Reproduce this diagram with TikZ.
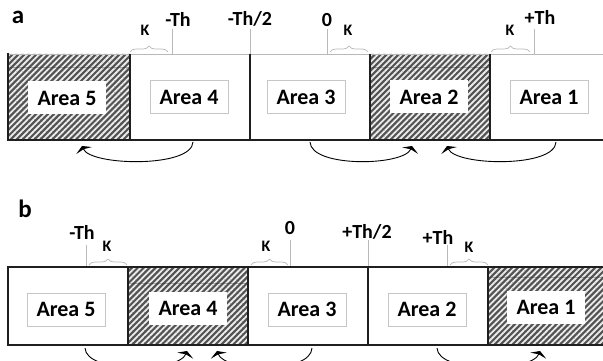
\documentclass[tikz,border=0pt]{standalone}
\usepackage{fontspec}
\setmainfont{Carlito}
\usetikzlibrary{patterns.meta,decorations.pathreplacing,arrows.meta}
\begin{document}
\begin{tikzpicture}[x=1pt,y=-1pt,
  thickline/.style={line width=2.6pt, black!88},
  tickline/.style={gray!55, line width=0.7pt},
  kbrace/.style={gray!55, line width=0.7pt, decorate, decoration={brace, amplitude=6pt}},
  hatched/.style={fill=gray!65!black,
    postaction={pattern={Lines[angle=45,distance=4.2pt,line width=1.8pt]}, pattern color=white!85!gray}},
  seam/.style={gray!30!black, line width=1pt, opacity=0.35},
  arealabel/.style={draw=gray!45, line width=0.6pt, fill=white, inner sep=0pt,
    minimum width=78pt, minimum height=33pt, font=\bfseries\fontsize{22}{24}\selectfont},
  marklabel/.style={font=\bfseries\fontsize{20}{22}\selectfont, inner sep=0pt},
  klabel/.style={font=\bfseries\fontsize{16}{18}\selectfont, inner sep=0pt},
  panellabel/.style={font=\bfseries\fontsize{25}{27}\selectfont, inner sep=0pt},
  arr/.style={line width=0.9pt, black, -{Stealth[length=5pt,width=17pt,inset=1.5pt]}}
]
\useasboundingbox (0,0) rectangle (603,361);
\clip (0,0) rectangle (603,361);
\fill[white] (0,0) rectangle (603,361);

% ---------------- panel a ----------------
\node[panellabel] (pa) at (18,17) {a};

\path[hatched] (8,54) rectangle (130,140);
\path[hatched] (370,54) rectangle (490,140);
\draw[seam] (8,68) -- (130,68);
\draw[seam] (370,68) -- (490,68);

\draw[tickline] (8,54) -- (604,54);
\draw[thickline] (8,53) -- (8,140) -- (604,140);
\foreach \x in {130,250,370,490} \draw[thickline] (\x,54) -- (\x,140);

% threshold marks
\draw[tickline] (172,29) -- (172,54);
\draw[tickline] (250,29) -- (250,54);
\draw[tickline] (327,29) -- (327,54);
\draw[tickline] (534,29) -- (534,54);
\node[marklabel] (amth) at (178,19) {-Th};
\node[marklabel] (amth2) at (250,19) {-Th/2};
\node[marklabel] (azero) at (327,20) {0};
\node[marklabel] (apth) at (540,17) {+Th};

% hysteresis widths
\draw[kbrace] (130,52) -- (168,52);
\draw[kbrace] (330,52) -- (368,52);
\draw[kbrace] (491,52) -- (530,52);
\node[klabel] (ak1) at (145,30) {K};
\node[klabel] (ak2) at (348,30) {K};
\node[klabel] (ak3) at (510,30) {K};

% areas
\node[arealabel, draw=none] (a5) at (67,98) {Area 5};
\node[arealabel] (a4) at (189,97) {Area 4};
\node[arealabel] (a3) at (306,97) {Area 3};
\node[arealabel, draw=none] (a2) at (429,97) {Area 2};
\node[arealabel] (a1) at (549,97) {Area 1};

% transitions
\coordinate (a4s) at (193,142);
\coordinate (a5e) at (82,146);
\coordinate (a3s) at (310,142);
\coordinate (a2e) at (412,146);
\coordinate (a1s) at (556,142);
\coordinate (a2f) at (447,146);
\draw[arr] (a4s) .. controls (192,168) and (91,166) .. (a5e);
\draw[arr] (a3s) .. controls (311,168) and (404,166) .. (a2e);
\draw[arr] (a1s) .. controls (555,168) and (456,166) .. (a2f);

% ---------------- panel b ----------------
\node[panellabel] (pb) at (25,209) {b};

\path[hatched] (128,267) rectangle (248,345);
\path[hatched] (488,267) rectangle (604,345);
\draw[seam] (128,283) -- (248,283);
\draw[seam] (488,277) -- (604,277);

\draw[thickline] (604,267) -- (8,267) -- (8,345) -- (604,345);
\foreach \x in {128,248,368,488} \draw[thickline] (\x,267) -- (\x,345);

% threshold marks
\draw[tickline] (86,245) -- (86,266);
\draw[tickline] (290,240) -- (290,266);
\draw[tickline] (368,240) -- (368,266);
\draw[tickline] (447,245) -- (447,266);
\node[marklabel] (bmth) at (82,232) {-Th};
\node[marklabel] (bzero) at (290,228) {0};
\node[marklabel] (bpth2) at (367,232) {+Th/2};
\node[marklabel] (bpth) at (438,237) {+Th};

% hysteresis widths
\draw[kbrace] (89,265) -- (127,265);
\draw[kbrace] (251,265) -- (288,265);
\draw[kbrace] (450,265) -- (488,265);
\node[klabel] (bk1) at (107,246) {K};
\node[klabel] (bk2) at (266,246) {K};
\node[klabel] (bk3) at (469,247) {K};

% areas
\node[arealabel] (b5) at (66,309.5) {Area 5};
\node[arealabel, draw=none] (b4) at (188,308) {Area 4};
\node[arealabel] (b3) at (307,309.5) {Area 3};
\node[arealabel] (b2) at (427,309.5) {Area 2};
\node[arealabel, draw=none] (b1) at (546,307) {Area 1};

% transitions
\coordinate (b5s) at (85,348);
\coordinate (b4e) at (187,351);
\coordinate (b3s) at (312,348);
\coordinate (b4f) at (217,351);
\coordinate (b2s) at (437,348);
\coordinate (b1e) at (540,351);
\draw[arr] (b5s) .. controls (86,374) and (179,372) .. (b4e);
\draw[arr] (b3s) .. controls (311,374) and (225,372) .. (b4f);
\draw[arr] (b2s) .. controls (438,374) and (532,372) .. (b1e);
\end{tikzpicture}
\end{document}
